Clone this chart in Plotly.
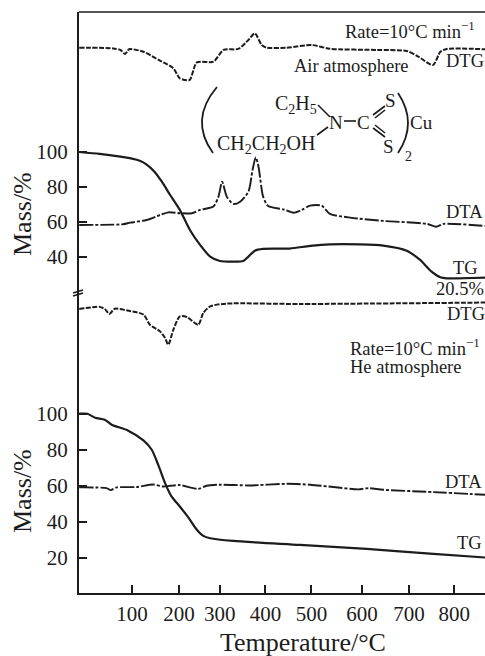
import plotly.graph_objects as go

# Temperature axis (drawn irregularly in the original)
tick_pos = [100, 202, 291, 390, 490, 600, 702, 800]
tick_text = ["100", "200", "300", "400", "500", "600", "700", "800"]

# Air atmosphere
air_tg_t = [-14.5, 30, 67, 100, 117, 132, 148, 165, 183, 204, 226, 248, 270, 291, 320, 342, 353, 367, 385, 443, 487, 530, 596, 646, 697, 726, 751, 770, 784, 867]
air_tg = [100, 98.9, 97.6, 96.2, 95, 92.8, 89, 83, 75.4, 66.9, 55.4, 46.9, 40.2, 37.7, 37.3, 37.7, 40.2, 43.6, 44.6, 44.8, 46.3, 47.2, 47.2, 46.5, 43.6, 38.3, 31.6, 28.4, 27.8, 28.2]
air_dta_t = [-14.5, 81, 96, 132, 161, 179, 204, 230, 248, 277, 288, 296, 306, 320, 335, 353, 362, 369, 375, 385, 396, 429, 451, 469, 487, 512, 530, 574, 646, 741, 761, 777, 867]
air_dta = [58.3, 58.7, 59.6, 61.1, 64, 65.5, 65, 65, 66.9, 68.8, 74.5, 83, 74.5, 70.3, 71.6, 77.3, 89.7, 97, 91.6, 74.5, 69.1, 67.2, 65.3, 66.9, 69.3, 69.3, 64.6, 62.5, 60.6, 58.9, 57.3, 58.9, 57.7]
air_dtg_t = [-14.5, 59, 75, 85, 94, 125, 161, 190, 204, 225, 241, 277, 299, 331, 353, 367, 382, 393, 436, 491, 530, 632, 697, 722, 754, 770, 784, 867]
air_dtg = [159.6, 159.2, 158.3, 156, 158.7, 157.3, 152.2, 147.8, 142.1, 141.1, 151.2, 151.6, 158.3, 158.9, 164, 167.8, 161.1, 159.6, 159.6, 161.1, 159, 158.3, 157.7, 154.5, 149.7, 157.3, 158.9, 158.7]

# Helium atmosphere
he_tg_t = [-14.5, 3, 20, 41, 56, 92, 125, 143, 157, 172, 186, 204, 222, 241, 255, 270, 320, 465, 610, 755, 867]
he_tg = [100, 100, 97.8, 96.7, 93.9, 90.6, 85.2, 80, 71.7, 61.5, 54.1, 48.5, 42.6, 35.6, 32.2, 30.9, 29.4, 27.2, 25, 22.2, 20.2]
he_dta_t = [-14.5, 45, 54, 67, 110, 146, 168, 183, 204, 244, 262, 291, 356, 436, 487, 538, 592, 614, 646, 755, 867]
he_dta = [59.1, 58.7, 57.6, 59.1, 59.3, 60.7, 59.6, 60, 60.4, 58.3, 60, 60.6, 60.2, 61.1, 60.6, 59.3, 58, 58.7, 57.8, 56.5, 55]
he_dtg_t = [-14.5, 30, 41, 51, 63, 88, 125, 139, 161, 172, 179, 190, 204, 219, 244, 255, 270, 306, 465, 867]
he_dtg = [158.1, 159.3, 158.1, 155.4, 158.3, 157.4, 155, 149.4, 145.7, 142, 138.3, 146.7, 154, 153.7, 149.4, 155.9, 159.6, 161.1, 160.9, 161.7]

W, H = 485, 656
L, R, T, B = 79, 485, 12, 593
BREAK = 293
INK = "#1c1c1c"
SERIF = "Liberation Serif"


def px(x):
    return (x - L) / (R - L)


def py(y):
    return (B - y) / (B - T)


fig = go.Figure()
DASH = "5px,1.5px"
DOT = "14px,2px,3px,2px"
for xs, ys, axis, dash, width in [
    (air_dtg_t, air_dtg, "y2", DASH, 2.0),
    (air_dta_t, air_dta, "y2", DOT, 1.9),
    (air_tg_t, air_tg, "y2", "solid", 2.2),
    (he_dtg_t, he_dtg, "y", DASH, 2.0),
    (he_dta_t, he_dta, "y", DOT, 1.9),
    (he_tg_t, he_tg, "y", "solid", 2.2),
]:
    fig.add_trace(go.Scatter(x=xs, y=ys, yaxis=axis, mode="lines",
                             line=dict(color=INK, width=width, dash=dash, shape="spline", smoothing=0.7),
                             showlegend=False, hoverinfo="skip"))

notes = [
    ("Rate=10°C min<sup>−1</sup>", 410, 30, 18.5, "center", 0),
    ("Air atmosphere", 351, 66, 18.5, "center", 0),
    ("DTG", 465, 61, 18.5, "center", 0),
    ("DTA", 464, 212, 18.5, "center", 0),
    ("TG", 465, 268, 18.5, "center", 0),
    ("20.5%", 460, 289, 18.5, "center", 0),
    ("DTG", 466, 314, 18.5, "center", 0),
    ("Rate=10°C min<sup>−1</sup>", 348, 347, 18.5, "left", 0),
    ("He atmosphere", 348, 367, 18.5, "left", 0),
    ("DTA", 463, 482, 18.5, "center", 0),
    ("TG", 469, 543, 18.5, "center", 0),
    ("C<sub>2</sub>H<sub>5</sub>", 296, 104, 20, "center", 0),
    ("N", 336, 122, 19, "center", 0),
    ("C", 363, 122, 19, "center", 0),
    ("S", 390, 100, 19, "center", 0),
    ("S", 388, 146, 19, "center", 0),
    ("CH<sub>2</sub>CH<sub>2</sub>OH", 265.5, 144, 20, "center", 0),
    ("Cu", 421, 123, 19, "center", 0),
    ("2", 408, 156, 14, "center", 0),
    ("Mass/%", 22, 214, 26, "center", -90),
    ("Mass/%", 22, 491, 26, "center", -90),
    ("Temperature/°C", 303, 642, 26, "center", 0),
]
for text, x, y, size, anchor, angle in notes:
    fig.add_annotation(x=px(x), y=py(y), xref="paper", yref="paper", text=text, showarrow=False,
                       xanchor=anchor, yanchor="middle", textangle=angle,
                       font=dict(family=SERIF, size=size, color=INK))

shapes = []
segments = [
    (318, 105, 330, 117), (344, 121, 356, 121), (317, 135, 328, 127),
    (373, 115, 385, 106), (373, 128, 385, 137), (375, 118, 385, 110), (375, 125, 385, 133),
    (79, 12, 485, 12), (73, 293, 83, 290), (73, 296, 83, 293),
]
for x0, y0, x1, y1 in segments:
    shapes.append(dict(type="line", xref="paper", yref="paper", x0=px(x0), y0=py(y0), x1=px(x1), y1=py(y1),
                       line=dict(color=INK, width=1.6)))
for (ax, ay, cx, cy, bx, by) in [(217, 87, 189, 120, 213, 153), (398, 93, 418, 123, 398, 153)]:
    shapes.append(dict(type="path", xref="paper", yref="paper",
                       path=f"M {px(ax)} {py(ay)} Q {px(cx)} {py(cy)} {px(bx)} {py(by)}",
                       line=dict(color=INK, width=1.8)))

split = py(BREAK)
axis_font = dict(family=SERIF, size=21, color=INK)
common = dict(ticks="inside", ticklen=8, tickwidth=1.5, tickcolor=INK, showgrid=False, zeroline=False,
              showline=True, linecolor=INK, linewidth=2, tickfont=axis_font)
fig.update_layout(
    width=W, height=H, margin=dict(l=L, r=W - R, t=T, b=H - B),
    paper_bgcolor="white", plot_bgcolor="white", showlegend=False, shapes=shapes,
    xaxis=dict(range=[-15, 867], tickmode="array", tickvals=tick_pos, ticktext=tick_text,
               ticklabelstandoff=1, **common),
    yaxis=dict(domain=[0, split], range=[0.5, 167], tickmode="array", tickvals=[20, 40, 60, 80, 100],
               ticklabelstandoff=5, **common),
    yaxis2=dict(domain=[split, 1], range=[19.4, 180], tickmode="array", tickvals=[40, 60, 80, 100],
                ticklabelstandoff=5, anchor="x", **common),
)
fig.write_html("out.html", post_script="document.body.style.margin='0';", config=dict(displayModeBar=False))
